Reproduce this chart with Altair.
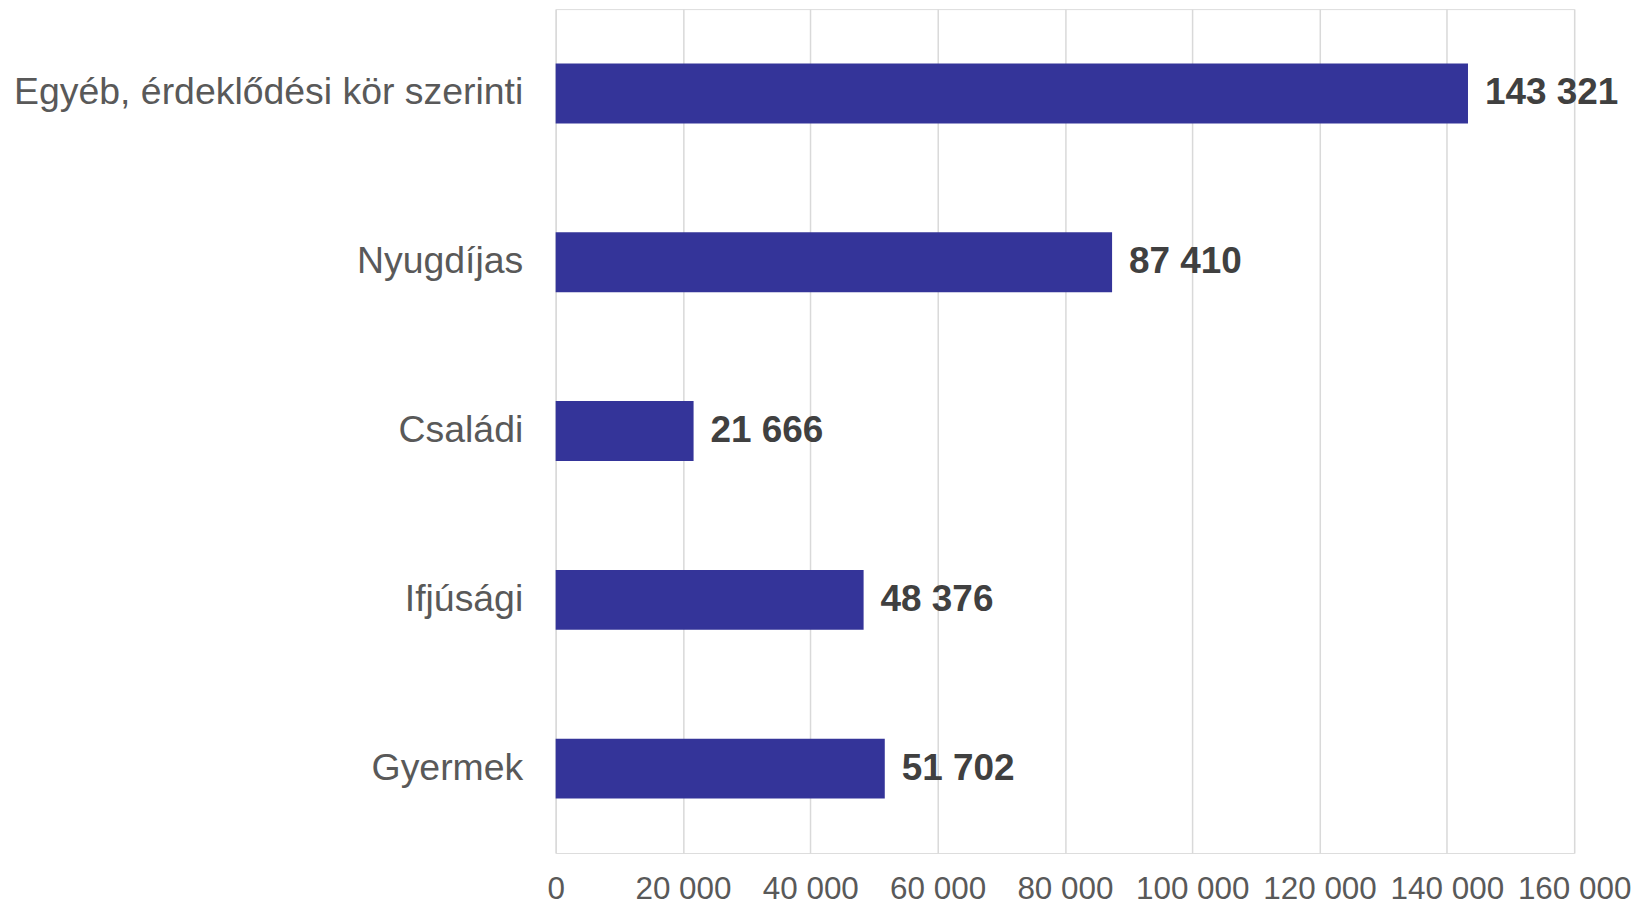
import altair as alt
import pandas as pd

categories = ["Egyéb, érdeklődési kör szerinti", "Nyugdíjas", "Családi", "Ifjúsági", "Gyermek"]
values = [143321, 87410, 21666, 48376, 51702]
x_ticks = [0, 20000, 40000, 60000, 80000, 100000, 120000, 140000, 160000]

df = pd.DataFrame({"cat": categories, "val": values})

fmt = "replace(format(datum.value, ','), ',', ' ')"

base = alt.Chart(df).encode(
    y=alt.Y(
        "cat:N",
        sort=categories,
        title=None,
        scale=alt.Scale(paddingInner=0.645, paddingOuter=0.3225),
        axis=alt.Axis(
            labelFont="Liberation Sans",
            labelFontSize=37.5,
            labelColor="#595959",
            labelPadding=33,
            ticks=False,
            domain=False,
            labelLimit=600,
        ),
    ),
    x=alt.X(
        "val:Q",
        title=None,
        scale=alt.Scale(domain=[0, 160000], nice=False),
        axis=alt.Axis(
            values=x_ticks,
            labelExpr=fmt,
            labelFont="Liberation Sans",
            labelFontSize=31.5,
            labelColor="#595959",
            labelPadding=21,
            ticks=False,
            domain=False,
            grid=True,
            gridColor="#d9d9d9",
            gridWidth=1.5,
            labelFlush=False,
            labelOverlap=False,
        ),
    ),
)

bars = base.mark_bar(color="#343499")

labels = base.transform_calculate(
    lbl="replace(format(datum.val, ','), ',', ' ')"
).mark_text(
    align="left",
    baseline="middle",
    dx=17,
    font="Liberation Sans",
    fontSize=37,
    fontWeight="bold",
    color="#404040",
).encode(text="lbl:N")

chart = (
    alt.layer(bars, labels)
    .properties(
        width=1021,
        height=846,
        autosize=alt.AutoSizeParams(type="none"),
        padding={"left": 549, "top": 0, "right": 66, "bottom": 53},
    )
    .configure_view(stroke=None)
    .configure(background="white")
)

chart.save("out.html", embed_options={"renderer": "svg", "actions": False})
